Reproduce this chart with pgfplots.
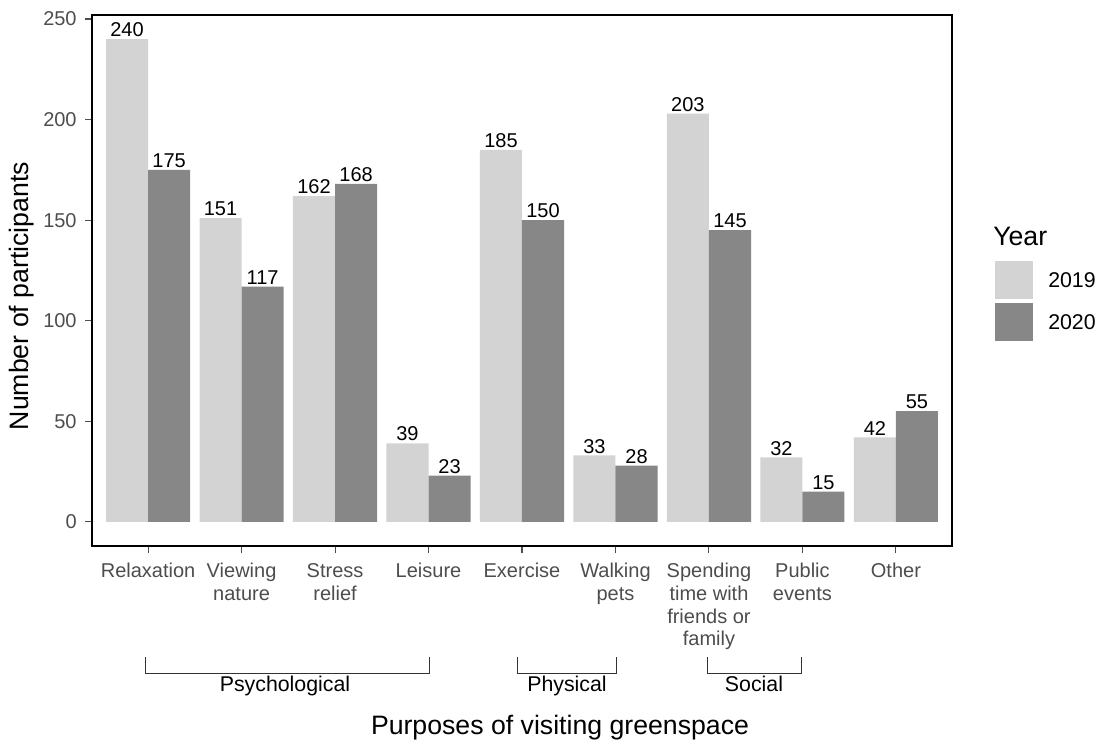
\documentclass[border=0pt]{standalone}
\usepackage{pgfplots}
\pgfplotsset{compat=1.18}
\usepackage{fontspec}
\setmainfont{Liberation Sans}
\definecolor{bar19}{RGB}{211,211,211}
\definecolor{bar20}{RGB}{135,135,135}
\definecolor{grey30}{RGB}{77,77,77}
\begin{document}
\begin{tikzpicture}
\useasboundingbox (0,0) rectangle (825.75pt,556.5pt);
\begin{axis}[
  at={(69pt,147pt)}, anchor=south west,
  scale only axis, width=645pt, height=398.25pt,
  xmin=0.4, xmax=9.6, ymin=-12, ymax=252,
  /pgf/number format/assume math mode=true,
  ybar=0pt, bar width=0.45,
  xtick={1,...,9},
  xticklabels={Relaxation, Viewing\\nature, Stress\\relief, Leisure, Exercise,
    Walking\\pets, Spending\\time with\\friends or\\family, Public\\events, Other},
  ytick={0,50,100,150,200,250},
  xticklabel style={align=center, font=\fontsize{15}{17}\selectfont, text=grey30, yshift=-4.5pt},
  yticklabel style={font=\fontsize{15}{17}\selectfont, text=grey30, xshift=-3pt},
  tick align=outside, major tick length=5pt,
  xtick pos=left, ytick pos=left,
  tick style={grey30, line width=0.8pt},
  axis line style={line width=1.6pt, black},
  nodes near coords,
  every node near coord/.append style={font=\fontsize{15}{15}\selectfont, black, inner sep=1.5pt},
]
\addplot[fill=bar19, draw=none] coordinates
{(1,240) (2,151) (3,162) (4,39) (5,185) (6,33) (7,203) (8,32) (9,42)};
\addplot[fill=bar20, draw=none] coordinates
{(1,175) (2,117) (3,168) (4,23) (5,150) (6,28) (7,145) (8,15) (9,55)};
\end{axis}
% axis titles
\node[font=\fontsize{20}{20}\selectfont] at (420pt,10.5pt) {Purposes of visiting greenspace};
\node[font=\fontsize{20}{20}\selectfont, rotate=90] at (16.5pt,334.5pt) {Number of participants};
% group brackets
\draw[black!80, line width=0.6pt] (108.75pt,63.75pt) -- (108.75pt,51.75pt) -- (321.75pt,51.75pt) -- (321.75pt,63.75pt);
\draw[black!80, line width=0.6pt] (387.75pt,63.75pt) -- (387.75pt,51.75pt) -- (462pt,51.75pt) -- (462pt,63.75pt);
\draw[black!80, line width=0.6pt] (530.25pt,63.75pt) -- (530.25pt,51.75pt) -- (600.75pt,51.75pt) -- (600.75pt,63.75pt);
\node[font=\fontsize{16}{16}\selectfont, anchor=base] at (213.75pt,37.5pt) {Psychological};
\node[font=\fontsize{16}{16}\selectfont, anchor=base] at (425.25pt,37.5pt) {Physical};
\node[font=\fontsize{16}{16}\selectfont, anchor=base] at (565.5pt,37.5pt) {Social};
% legend
\node[font=\fontsize{20}{20}\selectfont, anchor=west, inner sep=0pt] at (744.75pt,379.5pt) {Year};
\fill[bar19] (746.25pt,332.25pt) rectangle (774.75pt,360.75pt);
\fill[bar20] (746.25pt,300.75pt) rectangle (774.75pt,329.25pt);
\node[font=\fontsize{16}{16}\selectfont, anchor=west, inner sep=0pt] at (786pt,346.5pt) {2019};
\node[font=\fontsize{16}{16}\selectfont, anchor=west, inner sep=0pt] at (786pt,315pt) {2020};
\end{tikzpicture}
\end{document}
